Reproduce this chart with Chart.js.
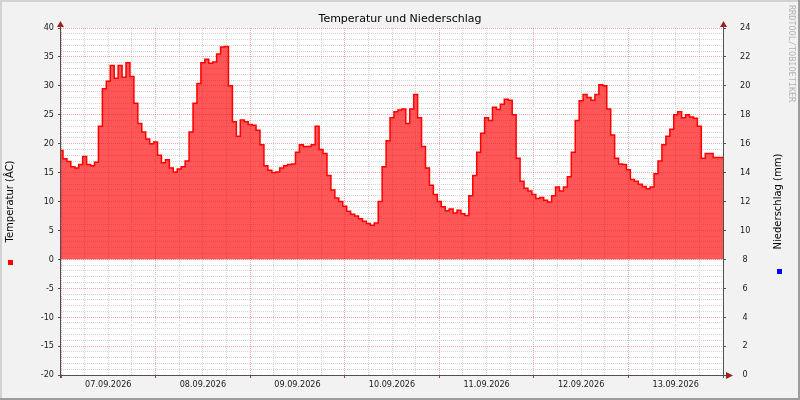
<!DOCTYPE html>
<html>
<head>
<meta charset="utf-8">
<script src="https://cdn.jsdelivr.net/npm/chart.js@4"></script>
<style>
html,body{margin:0;padding:0;background:#F2F2F2;}
canvas{display:block;}
</style>
</head>
<body>
<canvas id="c" width="800" height="400"></canvas>
<script>
// ---- data ----
const titleText = 'Temperatur und Niederschlag';
const leftTitle = 'Temperatur (ÂC)';
const rightTitle = 'Niederschlag (mm)';
const watermark = 'RRDTOOL/TOBIOETIKER';
const dayLabels = ['07.09.2026','08.09.2026','09.09.2026','10.09.2026','11.09.2026','12.09.2026','13.09.2026'];
// hourly temperature (°C), hour 0 = 07.09.2026 00:00
const temperature = [
  18.8,17.4,16.9,16.0,15.8,16.4,17.8,16.4,16.2,16.8,23.0,29.5,30.8,33.5,31.3,33.5,31.5,34.0,31.6,27.0,23.5,22.0,20.8,20.0,
  20.3,18.0,16.7,17.2,15.8,15.1,15.6,16.0,17.0,22.0,27.0,30.4,34.0,34.6,33.9,34.1,35.5,36.7,36.8,30.0,23.8,21.3,24.1,23.8,
  23.3,23.2,22.3,19.8,16.2,15.4,15.0,15.1,15.8,16.2,16.4,16.5,18.5,19.8,19.5,19.5,19.8,23.0,19.0,18.3,14.5,12.0,10.6,10.0,
  9.2,8.3,7.8,7.5,7.0,6.6,6.2,5.9,6.3,10.0,16.0,20.5,24.5,25.5,25.8,26.0,23.5,26.0,28.5,24.5,19.5,15.8,12.8,11.2,
  10.0,9.1,8.4,8.7,8.0,8.5,7.9,7.6,11.0,14.5,18.5,21.8,24.5,24.0,26.3,25.9,26.8,27.7,27.5,25.0,17.5,13.5,12.3,11.8,
  11.2,10.5,10.7,10.2,9.9,11.0,12.5,11.8,12.5,14.3,18.5,24.0,27.4,28.5,28.0,27.5,28.5,30.2,30.0,26.0,21.5,17.5,16.5,16.4,
  15.5,13.8,13.5,13.0,12.6,12.2,12.5,14.8,17.0,19.8,21.3,22.5,25.0,25.5,24.5,25.0,24.6,24.4,23.0,17.5,18.3,18.3,17.6,17.6,
  17.6
];
const hours = temperature.map((_, i) => i);
const tempRange = [-20, 40];
const rainRange = [0, 24];

// ---- styling ----
const TICK_FONT = {family: "'DejaVu Sans Condensed','DejaVu Sans',sans-serif", size: 9};
const MINOR = '#D3D3D3';
const MAJOR = 'rgba(230,110,110,0.6)';

const frame = {
  id: 'frame',
  beforeDraw(chart) {
    const {ctx, chartArea: a, width, height} = chart;
    ctx.save();
    ctx.fillStyle = '#F2F2F2';
    ctx.fillRect(0, 0, width, height);
    ctx.fillStyle = '#D2D2D2';
    ctx.fillRect(0, 0, width, 2);
    ctx.fillRect(0, 0, 2, height);
    ctx.fillStyle = '#9C9C9C';
    ctx.fillRect(0, height - 2, width, 2);
    ctx.fillRect(width - 2, 0, 2, height);
    ctx.fillStyle = '#FFFFFF';
    ctx.fillRect(a.left, a.top, a.right - a.left, a.bottom - a.top);
    ctx.restore();
  },
  afterDraw(chart) {
    const {ctx, chartArea: a} = chart;
    ctx.save();
    ctx.strokeStyle = '#505050';
    ctx.lineWidth = 1;
    const L = Math.round(a.left) - 0.5, R = Math.round(a.right) + 0.5, B = Math.round(a.bottom) + 0.5;
    ctx.beginPath();
    ctx.moveTo(L, a.top - 5); ctx.lineTo(L, a.bottom + 3);
    ctx.moveTo(R, a.top - 5); ctx.lineTo(R, a.bottom + 3);
    ctx.moveTo(a.left - 3, B); ctx.lineTo(a.right + 4, B);
    ctx.stroke();
    ctx.fillStyle = '#A02020';
    const tri = (p) => { ctx.beginPath(); ctx.moveTo(p[0][0], p[0][1]); ctx.lineTo(p[1][0], p[1][1]); ctx.lineTo(p[2][0], p[2][1]); ctx.closePath(); ctx.fill(); };
    tri([[L, a.top - 7], [L - 3.5, a.top - 1], [L + 3.5, a.top - 1]]);
    tri([[R, a.top - 7], [R - 3.5, a.top - 1], [R + 3.5, a.top - 1]]);
    tri([[a.right + 10, B], [a.right + 3, B - 3.5], [a.right + 3, B + 3.5]]);
    // legend markers
    ctx.fillStyle = '#FF0000';
    ctx.fillRect(8, 260, 5, 5);
    ctx.fillStyle = '#0000FF';
    ctx.fillRect(777, 269, 5, 5);
    // right axis title (reads bottom to top)
    ctx.fillStyle = '#000000';
    ctx.font = "10px 'DejaVu Sans',sans-serif";
    ctx.textAlign = 'center';
    ctx.textBaseline = 'middle';
    ctx.save();
    ctx.translate(778, (a.top + a.bottom) / 2);
    ctx.rotate(-Math.PI / 2);
    ctx.fillText(rightTitle, 0, 0);
    ctx.restore();
    // watermark
    ctx.fillStyle = '#B4B4B4';
    ctx.font = "8.5px 'DejaVu Sans Mono',monospace";
    ctx.textAlign = 'left';
    ctx.save();
    ctx.translate(791, 5);
    ctx.rotate(Math.PI / 2);
    ctx.fillText(watermark, 0, 0);
    ctx.restore();
    ctx.restore();
  }
};

new Chart(document.getElementById('c'), {
  type: 'line',
  data: {
    datasets: [{
      label: 'Temperatur',
      data: hours.map((h, i) => ({x: h, y: temperature[i]})),
      borderColor: '#FF0000',
      borderWidth: 1.5,
      backgroundColor: 'rgba(255,0,0,0.66)',
      fill: 'origin',
      stepped: 'middle',
      pointRadius: 0,
      yAxisID: 'y'
    }]
  },
  options: {
    responsive: false,
    animation: false,
    events: [],
    layout: {padding: 0},
    plugins: {
      legend: {display: false},
      tooltip: {enabled: false},
      title: {
        display: true,
        text: titleText,
        color: '#000000',
        font: {family: "'DejaVu Sans',sans-serif", size: 11, weight: 'normal', lineHeight: 1.2},
        padding: {top: 12.9, bottom: 1.9}
      }
    },
    scales: {
      x: {
        type: 'linear',
        min: 0, max: 168,
        afterFit: (s) => { s.height = 25; },
        border: {display: false, dash: [1, 1]},
        grid: {
          color: (c) => (c.tick && c.tick.value % 24 === 0) ? MAJOR : MINOR,
          tickColor: (c) => (c.tick && c.tick.value % 24 === 0) ? '#B04040' : 'rgba(0,0,0,0)',
          tickLength: 3,
          lineWidth: 1
        },
        ticks: {
          stepSize: 6,
          autoSkip: false,
          maxRotation: 0,
          padding: 1,
          color: '#202020',
          font: TICK_FONT,
          callback: (v) => (v % 24 === 12) ? dayLabels[(v - 12) / 24] : ''
        }
      },
      y: {
        position: 'left',
        min: tempRange[0], max: tempRange[1],
        afterFit: (s) => { s.width = 61; },
        border: {display: false, dash: [1, 1]},
        grid: {
          color: (c) => (c.tick && c.tick.value % 5 === 0) ? MAJOR : MINOR,
          tickColor: (c) => (c.tick && c.tick.value % 5 === 0) ? '#505050' : 'rgba(0,0,0,0)',
          tickLength: 3,
          lineWidth: 1
        },
        ticks: {
          stepSize: 1,
          autoSkip: false,
          padding: 4,
          color: '#202020',
          font: TICK_FONT,
          callback: (v) => (v % 5 === 0) ? String(v) : ''
        },
        title: {
          display: true,
          text: leftTitle,
          color: '#000000',
          font: {family: "'DejaVu Sans',sans-serif", size: 10, lineHeight: 1.2},
          padding: {top: 4, bottom: 0}
        }
      },
      y2: {
        position: 'right',
        min: rainRange[0], max: rainRange[1],
        afterFit: (s) => { s.width = 77; },
        border: {display: false},
        grid: {
          drawOnChartArea: false,
          tickColor: '#505050',
          tickLength: 3
        },
        ticks: {
          stepSize: 2,
          autoSkip: false,
          padding: 14,
          crossAlign: 'center',
          color: '#202020',
          font: TICK_FONT
        }
      }
    }
  },
  plugins: [frame]
});
</script>
</body>
</html>
